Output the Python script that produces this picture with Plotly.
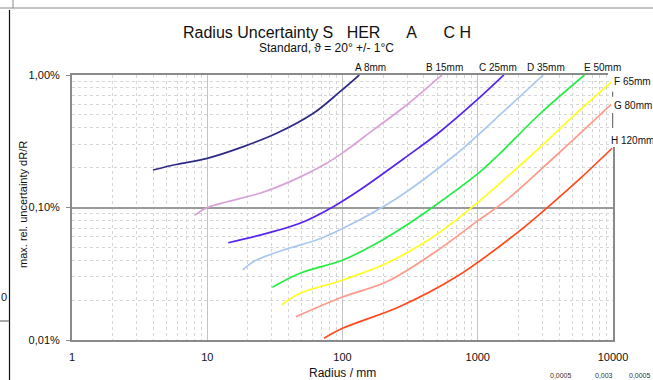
import plotly.graph_objects as go

# ---- data (radius in mm, max. rel. uncertainty in %) ----
a_x = [3.97, 6, 10, 18.5, 32.6, 60.9, 95.8, 133]
a_y = [0.192, 0.212, 0.235, 0.288, 0.363, 0.514, 0.748, 1.0]

b_x = [8.12, 10, 24.5, 43.3, 76.4, 101, 169, 298, 500, 545]
b_y = [0.0877, 0.1, 0.128, 0.161, 0.216, 0.26, 0.385, 0.594, 0.93, 1.0]

c_x = [14.3, 27.5, 48.5, 85.5, 135, 298, 526, 982, 1461, 1560]
c_y = [0.0542, 0.0638, 0.076, 0.1014, 0.136, 0.242, 0.373, 0.645, 0.94, 1.0]

d_x = [18.3, 21.9, 36.5, 64.4, 101, 251, 679, 1637, 3050]
d_y = [0.0338, 0.039, 0.0478, 0.0569, 0.0697, 0.117, 0.249, 0.557, 1.0]

e_x = [30.3, 48.5, 101, 179, 298, 469, 1040, 1419, 2886, 6150]
e_y = [0.025, 0.0319, 0.0402, 0.0537, 0.0738, 0.1014, 0.186, 0.249, 0.51, 1.0]

f_x = [35.5, 48.5, 101, 212, 469, 828, 2505, 5090, 9800]
f_y = [0.0184, 0.0225, 0.0284, 0.0379, 0.0602, 0.093, 0.249, 0.49, 0.89]

g_x = [45.3, 101, 212, 469, 982, 1637, 3837, 9700]
g_y = [0.015, 0.0212, 0.0275, 0.0451, 0.0782, 0.114, 0.249, 0.6]

h_x = [73, 101, 266, 699, 1941, 3236, 5700, 9850]
h_y = [0.0103, 0.0123, 0.0179, 0.0301, 0.064, 0.099, 0.165, 0.28]

series_names = ["A 8mm", "B 15mm", "C 25mm", "D 35mm", "E 50mm", "F 65mm", "G 80mm", "H 120mm"]
series_x = [a_x, b_x, c_x, d_x, e_x, f_x, g_x, h_x]
series_y = [a_y, b_y, c_y, d_y, e_y, f_y, g_y, h_y]
colors = ["#2e2a88", "#d8a2d8", "#5424ee", "#a8c8f0", "#22ee44", "#ffff22", "#ff9a8a", "#ff4a1e"]

x_ticks = [1, 10, 100, 1000, 10000]
x_ticktext = ["1", "10", "100", "1000", "10000"]
y_ticks = [0.01, 0.1, 1]
y_ticktext = ["0,01%", "0,10%", "1,00%"]
minor_digits = [2, 3, 4, 5, 6, 7, 8, 9]
x_minor = [d * 10 ** k for k in range(0, 4) for d in minor_digits]
y_minor = [d * 10.0 ** k for k in (-2, -1) for d in minor_digits]

FONT = "Liberation Sans, Arial, sans-serif"

fig = go.Figure()
for name, xs, ys, col in zip(series_names, series_x, series_y, colors):
    fig.add_trace(go.Scatter(x=xs, y=ys, mode="lines", name=name,
                             line=dict(color=col, width=1.7, shape="spline", smoothing=1.0),
                             showlegend=False, hoverinfo="x+y+name"))

# plot area in pixels: x 72..613, y 75..340
L, R, T, B = 72, 613, 75, 340
W, H = 653, 380
def px(xp):
    return (xp - L) / (R - L)
def py(yp):
    return (B - yp) / (B - T)

annotations = []
annotations.append(dict(text="Radius Uncertainty S\u00a0\u00a0 HER\u00a0\u00a0\u00a0\u00a0\u00a0 A\u00a0\u00a0\u00a0\u00a0\u00a0 C H",
                        x=px(326.7), y=py(32), xref="paper", yref="paper", showarrow=False,
                        xanchor="center", yanchor="middle", font=dict(size=16, color="#111", family=FONT)))
annotations.append(dict(text="Standard, \u03d1 = 20° +/- 1°C",
                        x=px(326.7), y=py(48), xref="paper", yref="paper", showarrow=False,
                        xanchor="center", yanchor="middle", font=dict(size=12, color="#111", family=FONT)))
top_label_px = [370.8, 444, 497.5, 545.5, 602.5]
for name, xc in zip(series_names[:5], top_label_px):
    annotations.append(dict(text=name, x=px(xc), y=py(67.7), xref="paper", yref="paper", showarrow=False,
                            xanchor="center", yanchor="middle", font=dict(size=10, color="#111", family=FONT)))
side = [(series_names[5], 611.7, 81.7), (series_names[6], 611.7, 105), (series_names[7], 609.3, 140)]
for name, xl, yl in side:
    annotations.append(dict(text=name, x=px(xl), y=py(yl), xref="paper", yref="paper", showarrow=False,
                            xanchor="left", yanchor="middle", font=dict(size=10, color="#111", family=FONT)))
annotations.append(dict(text="Radius / mm", x=0.5, y=py(373), xref="paper", yref="paper", showarrow=False,
                        xanchor="center", yanchor="middle", font=dict(size=12, color="#111", family=FONT)))
annotations.append(dict(text="max. rel. uncertainty dR/R", x=px(23), y=py(205), xref="paper", yref="paper",
                        showarrow=False, textangle=-90, xanchor="center", yanchor="middle",
                        font=dict(size=11, color="#111", family=FONT)))
for t, xc, anc in [("0,0005", 561, "center"), ("0,003", 604, "center"), ("0,0005", 653, "right")]:
    annotations.append(dict(text=t, x=px(xc), y=py(375), xref="paper", yref="paper", showarrow=False,
                            xanchor=anc, yanchor="middle", font=dict(size=7, color="#333", family=FONT)))
annotations.append(dict(text="0", x=px(3.5), y=py(297), xref="paper", yref="paper", showarrow=False,
                        xanchor="center", yanchor="middle", font=dict(size=11, color="#111", family=FONT)))

shapes = [
    dict(type="line", xref="paper", yref="paper", x0=px(0), x1=px(653), y0=py(8), y1=py(8),
         line=dict(color="#888", width=1)),
    dict(type="line", xref="paper", yref="paper", x0=px(13), x1=px(13), y0=py(0), y1=py(8),
         line=dict(color="#888", width=1)),
    dict(type="line", xref="paper", yref="paper", x0=px(9.5), x1=px(9.5), y0=py(10), y1=py(380),
         line=dict(color="#111", width=1.2)),
    dict(type="line", xref="paper", yref="paper", x0=px(0), x1=px(9.5), y0=py(321), y1=py(321),
         line=dict(color="#555", width=1)),
    # the label block hides the top-right part of the frame
    dict(type="rect", xref="paper", yref="paper", x0=px(611.8), x1=px(616), y0=py(73), y1=py(147),
         fillcolor="white", line=dict(width=0), layer="above"),
    dict(type="rect", xref="paper", yref="paper", x0=px(608), x1=px(616), y0=py(73), y1=py(76.5),
         fillcolor="white", line=dict(width=0), layer="above"),
    dict(type="line", xref="paper", yref="paper", x0=px(612.7), x1=px(612.7), y0=py(91.7), y1=py(96.7),
         line=dict(color="#555", width=1), layer="above"),
    dict(type="line", xref="paper", yref="paper", x0=px(612.7), x1=px(612.7), y0=py(113), y1=py(128),
         line=dict(color="#555", width=1), layer="above"),
]

fig.update_layout(
    width=W, height=H,
    margin=dict(l=L, r=W - R, t=T, b=H - B, pad=0),
    paper_bgcolor="white", plot_bgcolor="white",
    font=dict(family=FONT, size=11, color="#111"),
    annotations=annotations, shapes=shapes,
    xaxis=dict(type="log", range=[0, 4], tickmode="array", tickvals=x_ticks, ticktext=x_ticktext,
               showgrid=True, gridcolor="#c4c4c4", gridwidth=1,
               minor=dict(tickmode="array", tickvals=x_minor, showgrid=True, gridcolor="#d6d6d6",
                          griddash="dot", gridwidth=1, ticks=""),
               showline=True, linecolor="#8a8a8a", linewidth=2, mirror=True,
               ticks="", ticklabelstandoff=6, tickfont=dict(size=11, color="#111"), zeroline=False),
    yaxis=dict(type="log", range=[-2, 0], tickmode="array", tickvals=y_ticks, ticktext=y_ticktext,
               showgrid=True, gridcolor="#9a9a9a", gridwidth=2,
               minor=dict(tickmode="array", tickvals=y_minor, showgrid=True, gridcolor="#d6d6d6",
                          griddash="dot", gridwidth=1, ticks=""),
               showline=True, linecolor="#8a8a8a", linewidth=2, mirror=True,
               ticks="outside", ticklen=4, tickcolor="#8a8a8a", ticklabelstandoff=4,
               tickfont=dict(size=11, color="#111"), zeroline=False),
)

fig.write_html("out.html", config={"displayModeBar": False},
               post_script="document.body.style.margin='0px';document.body.style.overflow='hidden';")
